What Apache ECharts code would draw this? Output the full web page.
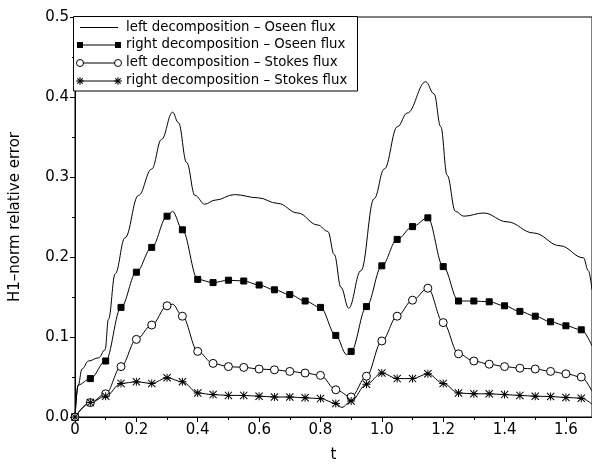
<!DOCTYPE html>
<html>
<head>
<meta charset="utf-8">
<script src="https://cdn.jsdelivr.net/npm/echarts@6/dist/echarts.min.js"></script>
<style>html,body{margin:0;padding:0;background:#fff}#c{width:592px;height:468px}</style>
</head>
<body>
<div id="c"></div>
<script>
// ---- data ----
const seriesNames = [
  'left decomposition \u2013 Oseen flux',
  'right decomposition \u2013 Oseen flux',
  'left decomposition \u2013 Stokes flux',
  'right decomposition \u2013 Stokes flux'
];
const xTicks = [0, 0.2, 0.4, 0.6, 0.8, 1.0, 1.2, 1.4, 1.6];
const yTicks = [0.0, 0.1, 0.2, 0.3, 0.4, 0.5];

// marker times
const tMarks = [0, 0.05, 0.1, 0.15, 0.2, 0.25, 0.3, 0.35, 0.4, 0.45, 0.5, 0.55, 0.6, 0.65,
  0.7, 0.75, 0.8, 0.85, 0.9, 0.95, 1.0, 1.05, 1.1, 1.15, 1.2, 1.25, 1.3, 1.35, 1.4, 1.45,
  1.5, 1.55, 1.6, 1.65];

// left decomposition - Oseen flux (plain line, [t, value])
const leftOseen = [[0,0],[0.01,0.039],[0.023,0.060],[0.044,0.070],[0.077,0.074],[0.098,0.084],
  [0.109,0.122],[0.131,0.179],[0.163,0.224],[0.207,0.277],[0.25,0.310],[0.282,0.347],
  [0.318,0.381],[0.337,0.368],[0.364,0.318],[0.391,0.277],[0.423,0.266],[0.456,0.271],
  [0.52,0.278],[0.596,0.274],[0.661,0.267],[0.726,0.255],[0.791,0.240],[0.824,0.232],
  [0.845,0.203],[0.867,0.162],[0.892,0.136],[0.932,0.183],[0.975,0.273],[1.008,0.310],
  [1.051,0.363],[1.083,0.380],[1.143,0.419],[1.170,0.404],[1.192,0.363],[1.213,0.302],
  [1.240,0.257],[1.267,0.251],[1.332,0.255],[1.408,0.244],[1.495,0.230],[1.581,0.214],
  [1.657,0.199],[1.673,0.183],[1.685,0.159]];

// right decomposition - Oseen flux (squares at tMarks)
const rightOseen = [0, 0.048, 0.070, 0.137, 0.181, 0.212, 0.251, 0.234, 0.172, 0.168, 0.171,
  0.170, 0.165, 0.159, 0.153, 0.145, 0.137, 0.102, 0.082, 0.138, 0.189, 0.222, 0.238, 0.249,
  0.188, 0.145, 0.145, 0.144, 0.139, 0.132, 0.126, 0.119, 0.114, 0.109];
const rightOseenCurve = [[0.01,0.040],[0.318,0.257],[0.885,0.078],[1.685,0.089]];

// left decomposition - Stokes flux (circles at tMarks)
const leftStokes = [0, 0.018, 0.029, 0.063, 0.097, 0.115, 0.139, 0.126, 0.082, 0.067, 0.063,
  0.062, 0.060, 0.059, 0.057, 0.055, 0.052, 0.034, 0.025, 0.051, 0.095, 0.126, 0.146, 0.161,
  0.118, 0.079, 0.070, 0.066, 0.063, 0.061, 0.060, 0.057, 0.054, 0.050];
const leftStokesCurve = [[0.318,0.141],[1.685,0.032]];

// right decomposition - Stokes flux (asterisks at tMarks)
const rightStokes = [0, 0.018, 0.026, 0.042, 0.044, 0.042, 0.049, 0.044, 0.030, 0.028, 0.027,
  0.027, 0.026, 0.025, 0.025, 0.024, 0.023, 0.017, 0.020, 0.041, 0.055, 0.048, 0.048, 0.054,
  0.042, 0.030, 0.029, 0.029, 0.028, 0.027, 0.026, 0.0256, 0.0244, 0.0235];
const rightStokesCurve = [[0.87,0.012],[1.685,0.016]];

// ---- build ----
function build(vals, extra) {
  const pts = tMarks.map((t, i) => ({ value: [t, vals[i]] }));
  extra.forEach(p => pts.push({ value: p, symbol: 'none' }));
  pts.sort((a, b) => a.value[0] - b.value[0]);
  return pts;
}
const star = 'path://M44 0L56 0L56 100L44 100Z M0 44L100 44L100 56L0 56Z M9 0L100 91L91 100L0 9Z M91 0L100 9L9 100L0 91Z';
const FONT = 'DejaVu Sans';

// legend drawn as graphic (markers at both ends of the sample line, as in the reference)
const LG = { x0: 73.5, y0: 16.5, x1: 357.5, y1: 91, lineX0: 80, lineX1: 118, textX: 126, rows: [27.5, 45, 63, 81] };
function markerEls(kind, cx, cy) {
  const s = { stroke: '#000', lineWidth: 1.1 };
  if (kind === 'rect') return [{ type: 'rect', shape: { x: cx - 3, y: cy - 3, width: 6, height: 6 }, style: { fill: '#000' } }];
  if (kind === 'circle') return [{ type: 'circle', shape: { cx: cx, cy: cy, r: 3.5 }, style: { fill: '#fff', stroke: '#000', lineWidth: 1 } }];
  if (kind === 'star') {
    const r = 3.8, d = 2.7;
    return [
      { type: 'line', shape: { x1: cx - r, y1: cy, x2: cx + r, y2: cy }, style: s },
      { type: 'line', shape: { x1: cx, y1: cy - r, x2: cx, y2: cy + r }, style: s },
      { type: 'line', shape: { x1: cx - d, y1: cy - d, x2: cx + d, y2: cy + d }, style: s },
      { type: 'line', shape: { x1: cx - d, y1: cy + d, x2: cx + d, y2: cy - d }, style: s }
    ];
  }
  return [];
}
const legendKinds = ['none', 'rect', 'circle', 'star'];
const legendEls = [{ type: 'rect', z: 100, shape: { x: LG.x0, y: LG.y0, width: LG.x1 - LG.x0, height: LG.y1 - LG.y0 },
  style: { fill: '#fff', stroke: '#000', lineWidth: 1 } }];
seriesNames.forEach((n, i) => {
  const y = LG.rows[i];
  legendEls.push({ type: 'line', z: 101, shape: { x1: LG.lineX0, y1: y, x2: LG.lineX1, y2: y }, style: { stroke: '#000', lineWidth: 1 } });
  markerEls(legendKinds[i], LG.lineX0, y).concat(markerEls(legendKinds[i], LG.lineX1, y)).forEach(e => { e.z = 102; legendEls.push(e); });
  legendEls.push({ type: 'text', z: 102, x: LG.textX, y: y,
    style: { text: n, fill: '#000', font: '13.3px "DejaVu Sans"', textVerticalAlign: 'middle', verticalAlign: 'middle' } });
});

const chart = echarts.init(document.getElementById('c'), null, { renderer: 'canvas' });
const base = {
  type: 'line', smooth: 0.35, smoothMonotone: 'x',
  lineStyle: { color: '#000', width: 1 },
  itemStyle: { color: '#000', borderColor: '#000', borderWidth: 1 },
  emphasis: { disabled: true }, animation: false
};
chart.setOption({
  backgroundColor: '#fff',
  animation: false,
  grid: { left: 73, right: 0, top: 17, bottom: 46, show: true, borderColor: '#000', borderWidth: 1, backgroundColor: 'transparent' },
  graphic: legendEls,
  xAxis: {
    type: 'value', min: 0, max: 1.685, interval: 0.2,
    name: 't', nameLocation: 'middle', nameGap: 31,
    nameTextStyle: { fontFamily: FONT, fontSize: 15, color: '#000' },
    axisLine: { lineStyle: { color: '#000', width: 1 } },
    axisTick: { show: true, length: 5, lineStyle: { color: '#000' } },
    minorTick: { show: true, splitNumber: 2, length: 3, lineStyle: { color: '#000' } },
    splitLine: { show: false },
    axisLabel: {
      fontFamily: FONT, fontSize: 15, color: '#000', margin: 6, showMaxLabel: false,
      formatter: v => {
        const m = xTicks.find(x => Math.abs(x - v) < 1e-6);
        if (m === undefined) return '';
        return m === 0 ? '0' : m.toFixed(1);
      }
    }
  },
  yAxis: {
    type: 'value', min: 0, max: 0.5, interval: 0.1,
    name: 'H1\u2013norm relative error', nameLocation: 'middle', nameGap: 52,
    nameTextStyle: { fontFamily: FONT, fontSize: 15, color: '#000' },
    axisLine: { show: true, lineStyle: { color: '#000', width: 1 } },
    axisTick: { show: true, length: 5, lineStyle: { color: '#000' } },
    minorTick: { show: true, splitNumber: 2, length: 3, lineStyle: { color: '#000' } },
    splitLine: { show: false },
    axisLabel: {
      fontFamily: FONT, fontSize: 15, color: '#000', margin: 6,
      formatter: v => {
        const m = yTicks.find(y => Math.abs(y - v) < 1e-6);
        return m === undefined ? '' : m.toFixed(1);
      }
    }
  },
  series: [
    Object.assign({}, base, { name: seriesNames[0], symbol: 'none', smooth: 0.4, data: leftOseen }),
    Object.assign({}, base, { name: seriesNames[1], symbol: 'rect', symbolSize: 6, showAllSymbol: true,
      data: build(rightOseen, rightOseenCurve) }),
    Object.assign({}, base, { name: seriesNames[2], symbol: 'circle', symbolSize: 8, showAllSymbol: true,
      itemStyle: { color: '#fff', borderColor: '#000', borderWidth: 1 },
      data: build(leftStokes, leftStokesCurve) }),
    Object.assign({}, base, { name: seriesNames[3], symbol: star, symbolSize: 8, showAllSymbol: true,
      itemStyle: { color: '#000', borderWidth: 0 },
      data: build(rightStokes, rightStokesCurve) })
  ]
});
</script>
</body>
</html>
